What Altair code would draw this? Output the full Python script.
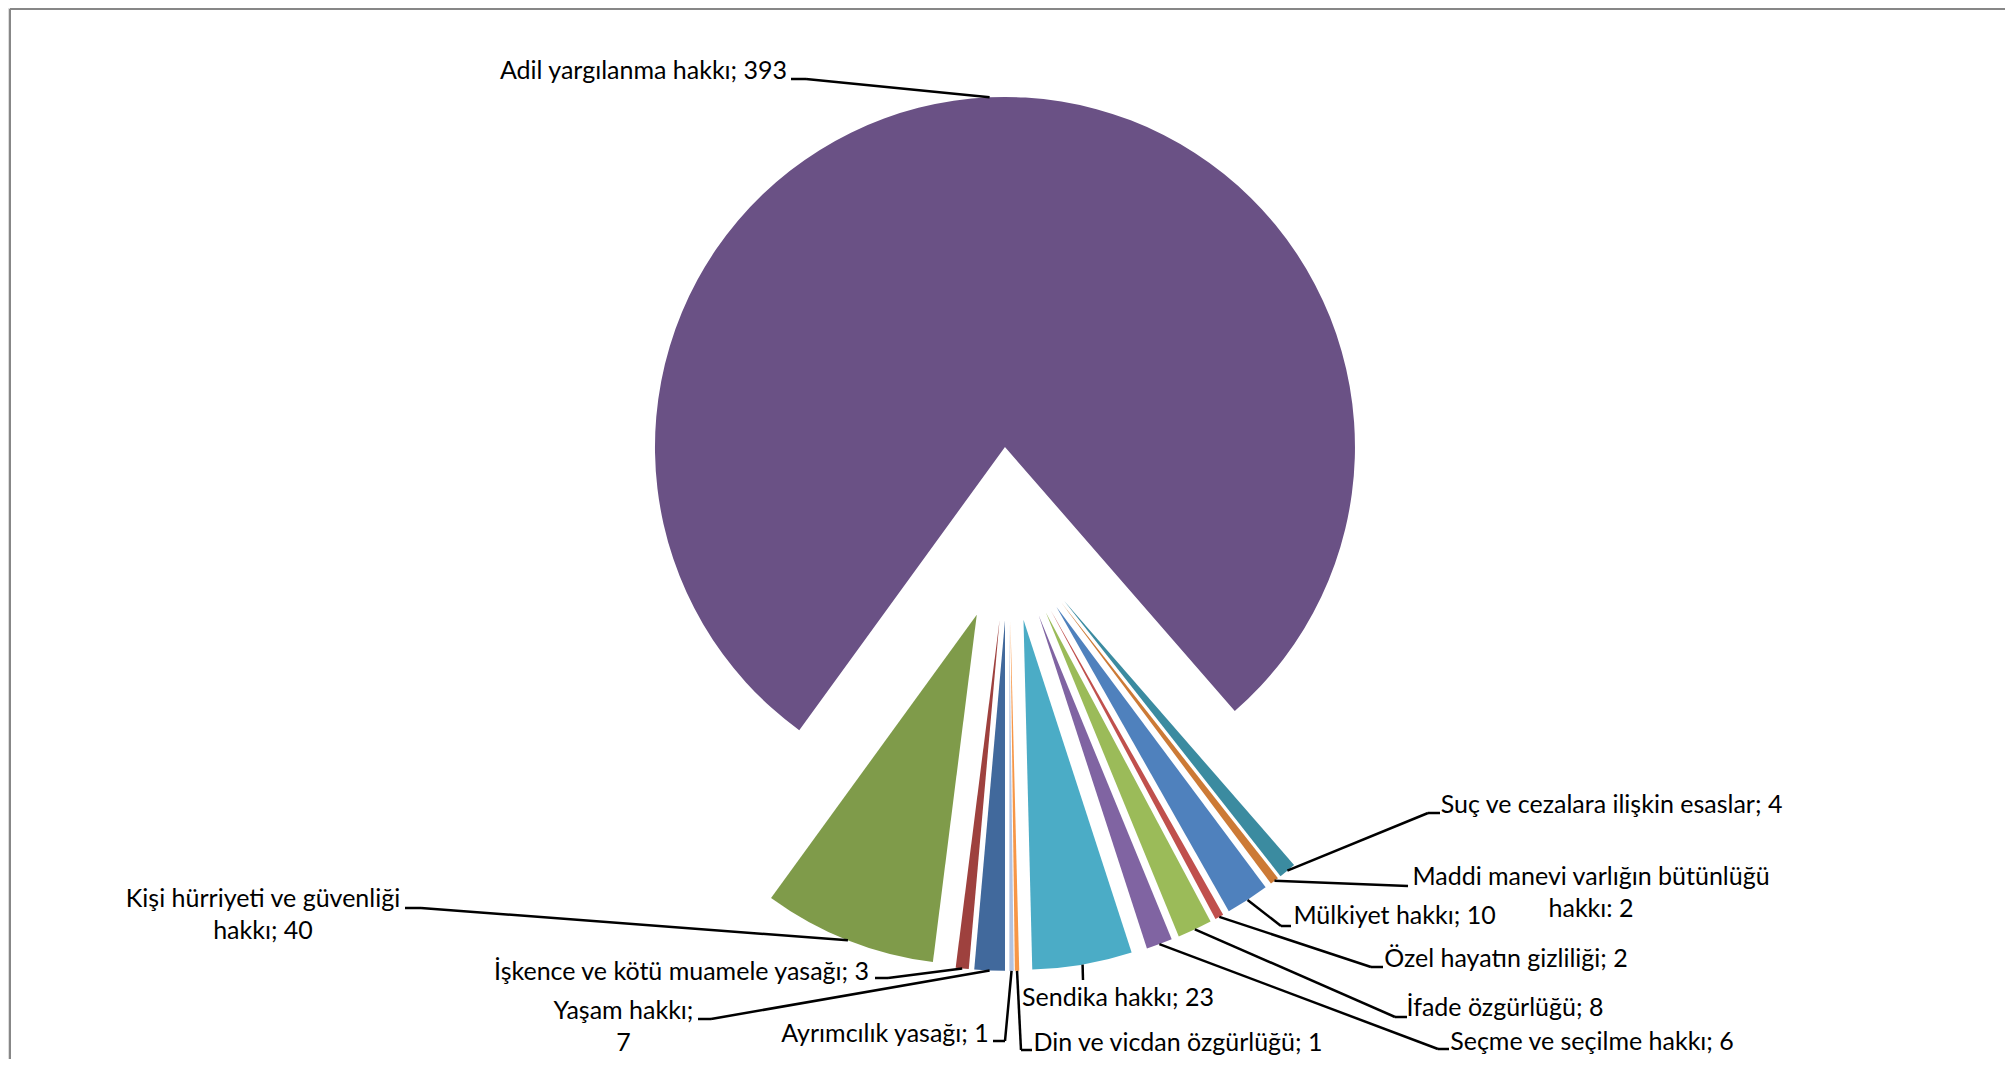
import math
import altair as alt
import pandas as pd

# ---------------- data (clockwise order, starting at lower right) ----------------
categories = [
    "Suç ve cezalara ilişkin esaslar",
    "Maddi manevi varlığın bütünlüğü hakkı",
    "Mülkiyet hakkı",
    "Özel hayatın gizliliği",
    "İfade özgürlüğü",
    "Seçme ve seçilme hakkı",
    "Sendika hakkı",
    "Din ve vicdan özgürlüğü",
    "Ayrımcılık yasağı",
    "Yaşam hakkı",
    "İşkence ve kötü muamele yasağı",
    "Kişi hürriyeti ve güvenliği hakkı",
    "Adil yargılanma hakkı",
]
values = [4, 2, 10, 2, 8, 6, 23, 1, 1, 7, 3, 40, 393]

label_line1 = [
    "Suç ve cezalara ilişkin esaslar; 4",
    "Maddi manevi varlığın bütünlüğü",
    "Mülkiyet hakkı; 10",
    "Özel hayatın gizliliği; 2",
    "İfade özgürlüğü; 8",
    "Seçme ve seçilme hakkı; 6",
    "Sendika hakkı; 23",
    "Din ve vicdan özgürlüğü; 1",
    "Ayrımcılık yasağı; 1",
    "Yaşam hakkı;",
    "İşkence ve kötü muamele yasağı; 3",
    "Kişi hürriyeti ve güvenliği",
    "Adil yargılanma hakkı; 393",
]
label_line2 = ["", "hakkı: 2", "", "", "", "", "", "", "", "7", "", "hakkı; 40", ""]

colors = [
    "#3B8BA0", "#CC7A36", "#4F81BD", "#C0504D", "#9BBB59", "#8064A2", "#4BACC6",
    "#F79646", "#B3C2DF", "#41699C", "#9E413E", "#7F9B4A", "#6A5185",
]

# ---------------- layout (pixels) ----------------
label_x = [1603.5, 1583, 1386.5, 1498, 1497, 1584, 1110, 1170, 877, 615.5, 673.5, 255, 635.5]
label_y = [805, 877, 916, 959, 1008, 1042, 998, 1043, 1034, 1011, 972, 899, 71]
knee_x = [1420, 1400, 1273, 1363, 1387, 1430, 1075, 1013, 997, 703, 880, 413, 798]
knee_y = [805, 878, 918, 959, 1009, 1041, 972, 1042, 1033, 1011, 970, 900, 71]
end_x = [1432, 1400, 1283, 1375, 1399, 1441, 1075, 1024, 985, 690, 867, 397, 783]
end_y = [805, 878, 918, 959, 1009, 1041, 972, 1042, 1033, 1011, 970, 900, 71]

W, H = 1997, 1051
CX, CY = 1000.8, 525.9      # pie centre
R = 350                      # pie radius
D = 87                       # explode distance
A0 = math.radians(138.96)    # start angle of first slice
LINE_H = 32
FONT = "Lato"
FS = 25
LEAD_W = 2.5

total = sum(values)

df = pd.DataFrame({
    "order": list(range(len(categories))),
    "category": categories,
    "value": values,
    "line1": label_line1,
    "line2": label_line2,
    "lx": label_x,
    "ly": label_y,
    "ly2": [y + LINE_H for y in label_y],
    "kx": knee_x,
    "ky": knee_y,
    "ex": end_x,
    "ey": end_y,
})

base = alt.Chart(df).transform_window(
    cum1="sum(value)", sort=[alt.SortField("order")], frame=[None, 0]
).transform_joinaggregate(
    total="sum(value)"
).transform_calculate(
    cum0="datum.cum1 - datum.value",
    ang=f"{A0} + PI * (2 * datum.cum1 - datum.value) / datum.total",
).transform_calculate(
    px=f"{CX} + {D} * sin(datum.ang)",
    py=f"{CY} - {D} * cos(datum.ang)",
    ax=f"{CX} + {D + R} * sin(datum.ang)",
    ay=f"{CY} - {D + R} * cos(datum.ang)",
)

arcs = base.mark_arc(radius=R, stroke=None).encode(
    x=alt.X("px:Q", scale=None),
    y=alt.Y("py:Q", scale=None),
    theta=alt.Theta("cum0:Q", stack=None,
                    scale=alt.Scale(domain=[0, total], range=[A0, A0 + 2 * math.pi])),
    theta2="cum1:Q",
    color=alt.Color("category:N", scale=alt.Scale(domain=categories, range=colors), legend=None),
)

lead1 = base.mark_rule(color="black", strokeWidth=LEAD_W).encode(
    x=alt.X("ax:Q", scale=None), y=alt.Y("ay:Q", scale=None),
    x2="kx:Q", y2="ky:Q",
)
lead2 = base.mark_rule(color="black", strokeWidth=LEAD_W).encode(
    x=alt.X("kx:Q", scale=None), y=alt.Y("ky:Q", scale=None),
    x2="ex:Q", y2="ey:Q",
)

text1 = base.mark_text(font=FONT, fontSize=FS, color="black", align="center",
                       baseline="alphabetic").encode(
    x=alt.X("lx:Q", scale=None), y=alt.Y("ly:Q", scale=None), text="line1:N",
)
text2 = base.mark_text(font=FONT, fontSize=FS, color="black", align="center",
                       baseline="alphabetic").encode(
    x=alt.X("lx:Q", scale=None), y=alt.Y("ly2:Q", scale=None), text="line2:N",
)

one = alt.Data(values=[{"k": 1}])
frame_col = "#878787"
frame_left = alt.Chart(one).mark_rule(color=frame_col, strokeWidth=2).encode(
    x=alt.value(2), y=alt.value(1), y2=alt.value(H))
frame_right = alt.Chart(one).mark_rule(color=frame_col, strokeWidth=2).encode(
    x=alt.value(2001), y=alt.value(1), y2=alt.value(H))
frame_top = alt.Chart(one).mark_rule(color=frame_col, strokeWidth=2).encode(
    x=alt.value(2), x2=alt.value(2001), y=alt.value(1))

chart = alt.layer(
    arcs, lead1, lead2, text1, text2, frame_left, frame_right, frame_top
).properties(
    width=W, height=H,
    autosize=alt.AutoSizeParams(type="none"),
    padding=0,
).configure_view(stroke=None).configure(background="white")

chart.save("out.html", embed_options={"renderer": "svg", "actions": False})
